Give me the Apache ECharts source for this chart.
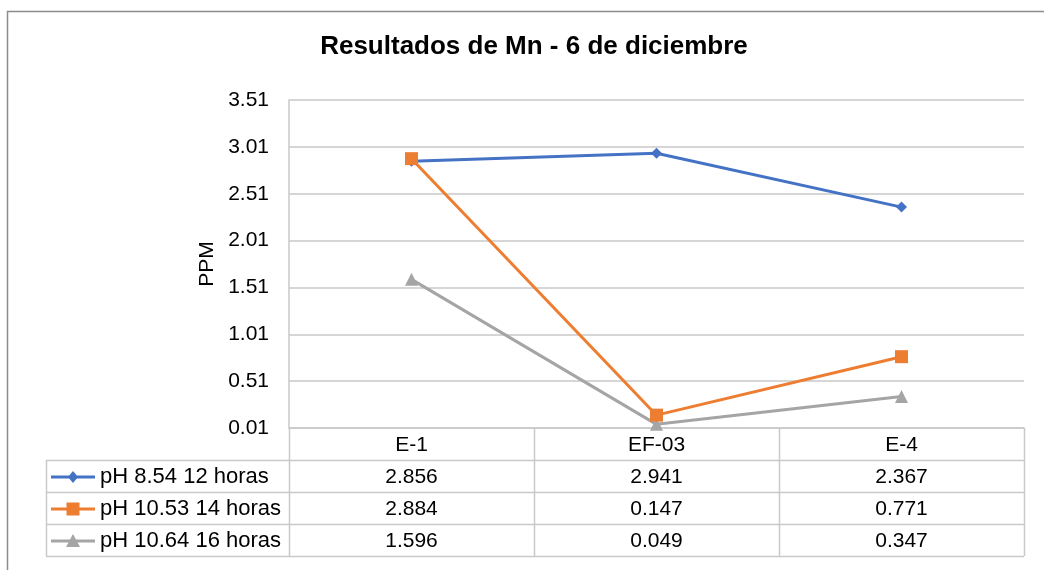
<!DOCTYPE html>
<html>
<head>
<meta charset="utf-8">
<script src="https://cdn.jsdelivr.net/npm/echarts@6/dist/echarts.min.js"></script>
<style>
html,body{margin:0;padding:0;background:#fff;}
#chart{width:1044px;height:570px;}
</style>
</head>
<body>
<div id="chart"></div>
<script>
// ---- data ----
const title = 'Resultados de Mn - 6 de diciembre';
const yAxisName = 'PPM';
const categories = ['E-1', 'EF-03', 'E-4'];
const seriesNames = ['pH 8.54 12 horas', 'pH 10.53 14 horas', 'pH 10.64 16 horas'];
const ph854 = [2.856, 2.941, 2.367];
const ph1053 = [2.884, 0.147, 0.771];
const ph1064 = [1.596, 0.049, 0.347];
const yMin = 0.01, yMax = 3.51, yStep = 0.5;

// ---- layout ----
const FONT = 'Liberation Sans, Arial, sans-serif';
const G = {left: 289, right: 1024, top: 100, bottom: 428};
const rowH = 32;
const tableLeft = 46;
const colors = ['#4472C4', '#ED7D31', '#A5A5A5'];
const symbols = ['diamond', 'rect', 'triangle'];
const symSizes = [11, 13, 13];
const seriesData = [ph854, ph1053, ph1064];
const gridColor = '#c9c9c9';

const chart = echarts.init(document.getElementById('chart'), null, {renderer: 'canvas'});

const series = seriesData.map((d, i) => ({
  name: seriesNames[i],
  type: 'line',
  data: d,
  symbol: symbols[i],
  symbolSize: symSizes[i],
  lineStyle: {color: colors[i], width: 3},
  itemStyle: {color: colors[i]},
  z: 3 + (i === 1 ? 2 : i === 0 ? 1 : 0)
}));

// table graphics
const graphics = [];
// chart border
graphics.push({type: 'polyline', shape: {points: [[7.5, 575], [7.5, 11.5], [1050, 11.5]]},
  style: {stroke: '#8c8c8c', lineWidth: 1.5, fill: null}, silent: true});
const colW = (G.right - G.left) / categories.length;
const tableBottom = G.bottom + rowH * (seriesNames.length + 1);
// vertical lines in value area
for (let c = 0; c <= categories.length; c++) {
  const x = Math.round(G.left + c * colW) + 0.5;
  graphics.push({type: 'line', shape: {x1: x, y1: G.bottom, x2: x, y2: tableBottom},
    style: {stroke: gridColor, lineWidth: 1.5}, silent: true});
}
// left line of legend column
graphics.push({type: 'line', shape: {x1: tableLeft + 0.5, y1: G.bottom + rowH, x2: tableLeft + 0.5, y2: tableBottom},
  style: {stroke: gridColor, lineWidth: 1.5}, silent: true});
// horizontal lines
for (let r = 1; r <= seriesNames.length + 1; r++) {
  const y = G.bottom + r * rowH + 0.5;
  graphics.push({type: 'line', shape: {x1: tableLeft, y1: y, x2: G.right, y2: y},
    style: {stroke: gridColor, lineWidth: 1.5}, silent: true});
}
// header
categories.forEach((c, i) => {
  graphics.push({type: 'text', x: G.left + (i + 0.5) * colW, y: G.bottom + rowH / 2 + 1,
    style: {text: c, font: '21px ' + FONT, fill: '#000', align: 'center', verticalAlign: 'middle'}, silent: true});
});
// rows
seriesNames.forEach((name, r) => {
  const cy = G.bottom + (r + 1.5) * rowH + 1;
  // legend key
  graphics.push({type: 'line', shape: {x1: 51, y1: cy, x2: 95, y2: cy},
    style: {stroke: colors[r], lineWidth: 3}, silent: true});
  let shape;
  if (symbols[r] === 'diamond') {
    shape = {type: 'polygon', shape: {points: [[73, cy - 6], [78, cy], [73, cy + 6], [68, cy]]}};
  } else if (symbols[r] === 'rect') {
    shape = {type: 'rect', shape: {x: 73 - 6.5, y: cy - 6.5, width: 13, height: 13}};
  } else {
    shape = {type: 'polygon', shape: {points: [[73, cy - 7], [80, cy + 6], [66, cy + 6]]}};
  }
  shape.style = {fill: colors[r]};
  shape.silent = true;
  graphics.push(shape);
  graphics.push({type: 'text', x: 100, y: cy, style: {text: name, font: '22px ' + FONT, fill: '#000', align: 'left', verticalAlign: 'middle'}, silent: true});
  seriesData[r].forEach((v, i) => {
    graphics.push({type: 'text', x: G.left + (i + 0.5) * colW, y: cy,
      style: {text: v.toFixed(3), font: '21px ' + FONT, fill: '#000', align: 'center', verticalAlign: 'middle'}, silent: true});
  });
});

const option = {
  backgroundColor: '#fff',
  animation: false,
  title: {
    text: title, left: 529, top: 29, textAlign: 'center',
    textStyle: {fontFamily: FONT, fontSize: 26, fontWeight: 'bold', color: '#000'}
  },
  grid: {left: G.left, right: 1044 - G.right, top: G.top, bottom: 570 - G.bottom, containLabel: false},
  xAxis: {
    type: 'category', data: categories, boundaryGap: true,
    axisLine: {show: true, lineStyle: {color: gridColor, width: 1.5}},
    axisTick: {show: false}, axisLabel: {show: false}
  },
  yAxis: {
    type: 'value', min: yMin, max: yMax, interval: yStep,
    name: yAxisName, nameLocation: 'middle', nameGap: 70, nameRotate: 90,
    nameTextStyle: {fontFamily: FONT, fontSize: 21, color: '#000'},
    axisLine: {show: true, lineStyle: {color: gridColor, width: 1.5}},
    axisTick: {show: false},
    axisLabel: {fontFamily: FONT, fontSize: 21, color: '#000', margin: 20, formatter: v => v.toFixed(2)},
    splitLine: {lineStyle: {color: gridColor, width: 1.5}}
  },
  series: series,
  graphic: graphics
};
chart.setOption(option);
</script>
</body>
</html>
